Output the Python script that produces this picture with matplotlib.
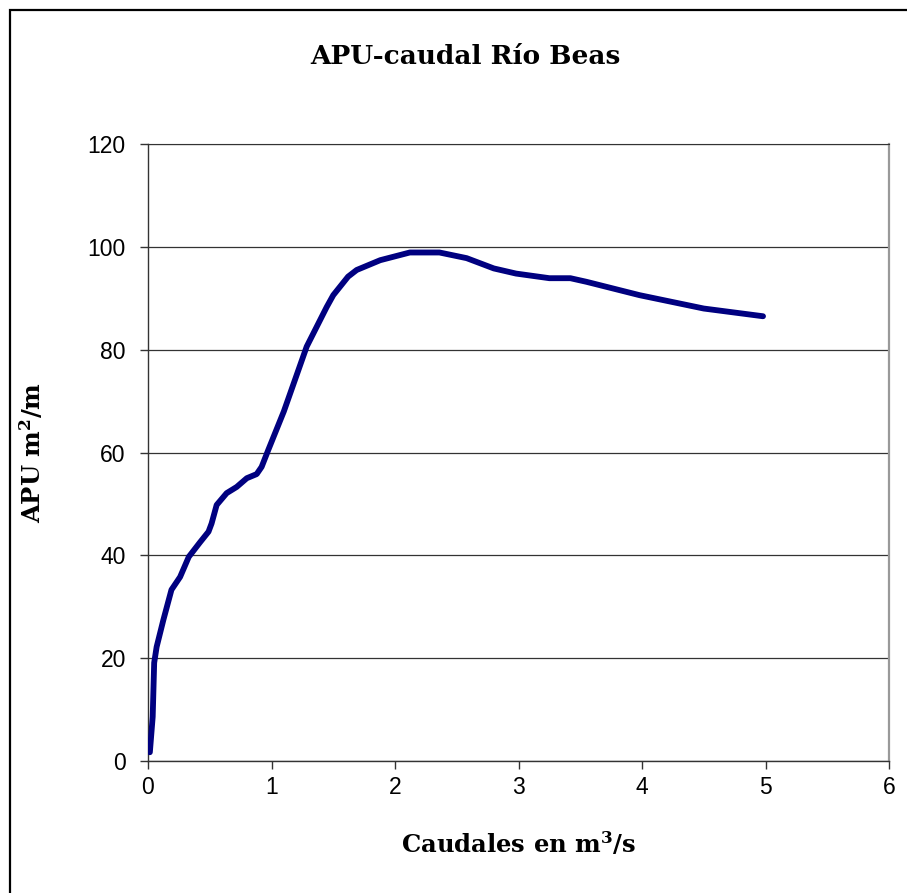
import matplotlib
matplotlib.use("Agg")
import matplotlib.pyplot as plt
from matplotlib.patches import Rectangle

plt.rcParams["mathtext.default"] = "regular"

# caudal (m3/s) vs APU (m2/m)
caudal = [0.015, 0.038, 0.05, 0.07, 0.124, 0.19, 0.26, 0.33, 0.42, 0.49, 0.515,
          0.556, 0.637, 0.718, 0.80, 0.88, 0.92, 0.974, 1.10, 1.285, 1.447, 1.50,
          1.62, 1.69, 1.88, 2.12, 2.36, 2.58, 2.80, 2.98, 3.25, 3.42, 3.55, 3.98,
          4.50, 4.98]
apu = [1.7, 8.6, 19.1, 22.2, 27.4, 33.3, 35.8, 39.7, 42.5, 44.6, 46.2,
       49.8, 52.1, 53.3, 55.0, 55.8, 57.2, 60.5, 68.0, 80.6, 88.3, 90.6,
       94.2, 95.5, 97.4, 98.9, 98.9, 97.8, 95.8, 94.8, 93.9, 93.9, 93.2, 90.6,
       88.0, 86.5]

xticks = [0, 1, 2, 3, 4, 5, 6]
yticks = [0, 20, 40, 60, 80, 100, 120]

serif = ["DejaVu Serif"]
sans = ["Liberation Sans", "DejaVu Sans"]

fig = plt.figure(figsize=(9.07, 8.93), dpi=100)
fig.patch.set_facecolor("white")
# chart-area frame
fig.patches.append(Rectangle((10/907, -0.2), 1.2, 1 - 10/893 + 0.2,
                             transform=fig.transFigure, fill=False,
                             edgecolor="black", lw=1.6))

ax = fig.add_axes([148/907, 1 - 761/893, 741/907, 617/893])
ax.plot(caudal, apu, color="#000080", lw=4.2, solid_capstyle="round",
        solid_joinstyle="round", zorder=3)

ax.set_xlim(0, 6)
ax.set_ylim(0, 120)
ax.set_xticks(xticks)
ax.set_yticks(yticks)
ax.set_xticklabels([str(v) for v in xticks], family=sans, fontsize=16.5)
ax.set_yticklabels([str(v) for v in yticks], family=sans, fontsize=16.5)
ax.tick_params(direction="out", length=6, width=1, color="#333333", pad=5)
ax.tick_params(axis="y", pad=10)
ax.yaxis.grid(True, color="#333333", lw=0.9)
ax.set_axisbelow(True)

for side in ["left", "bottom"]:
    ax.spines[side].set_color("#333333")
    ax.spines[side].set_linewidth(1.0)
ax.spines["top"].set_color("#333333")
ax.spines["right"].set_color("#999999")
ax.spines["right"].set_linewidth(1.6)

fig.text(465/907, 1 - 57/893, "APU-caudal Río Beas", family=serif,
         fontweight="bold", fontsize=19, ha="center", va="center")
ax.set_xlabel("Caudales en m$^3$/s", family=serif, fontweight="bold",
              fontsize=17.5)
ax.set_ylabel("APU m$^2$/m", family=serif, fontweight="bold",
              fontsize=17.5)
ax.xaxis.set_label_coords(0.5, -0.113)
ax.yaxis.set_label_coords(-0.138, 0.5)

fig.savefig("out.png", dpi=100, facecolor="white")
